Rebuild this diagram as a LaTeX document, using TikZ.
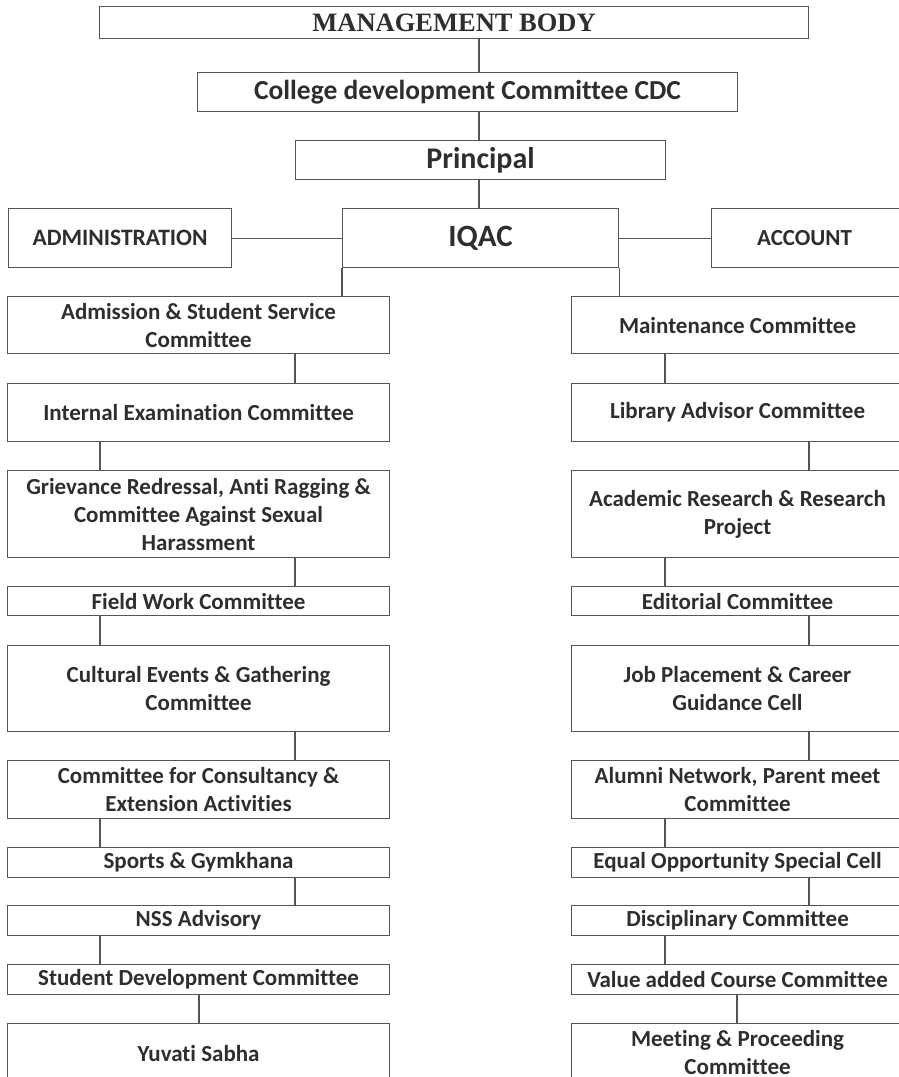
\documentclass[tikz,border=0pt]{standalone}
\usepackage{fontspec}
\setmainfont[Ligatures=NoCommon]{Carlito}
\newfontfamily\serifhead{Liberation Serif}
\definecolor{linec}{HTML}{555555}
\definecolor{textc}{HTML}{2E2E2E}
\tikzset{
  box/.style={draw=linec, line width=1.1pt, anchor=north west, inner sep=0pt, align=center, text=textc,
              font=\bfseries\fontsize{23}{28}\selectfont},
  conn/.style={draw=linec, line width=1.1pt},
}
\newcommand{\lbox}[4]{\node[box, minimum width=382pt, minimum height=#3pt] (#1) at (7,-#2) {#4};}
\newcommand{\rbox}[4]{\node[box, minimum width=332pt, minimum height=#3pt] (#1) at (571,-#2) {#4};}
\begin{document}
\begin{tikzpicture}[x=1pt,y=1pt]
\useasboundingbox (0,0) rectangle (899,-1077);
\clip (0,0) rectangle (899,-1077);
\fill[white] (0,0) rectangle (899,-1077);
% top
\node[box, minimum width=709pt, minimum height=32pt, font=\serifhead\bfseries\fontsize{26.5}{30}\selectfont] (mb) at (99,-6) {MANAGEMENT BODY};
\node[box, minimum width=540pt, minimum height=39pt, font=\bfseries\fontsize{27.5}{30}\selectfont] (cdc) at (197,-72) {College development Committee CDC};
\node[box, minimum width=370pt, minimum height=39pt, font=\bfseries\fontsize{30}{32}\selectfont] (pri) at (295,-140) {Principal};
\node[box, minimum width=223pt, minimum height=59pt, font=\bfseries\fontsize{23.5}{28}\selectfont] (adm0) at (8,-208) {ADMINISTRATION};
\node[box, minimum width=276pt, minimum height=59pt, font=\bfseries\fontsize{31}{32}\selectfont] (iqac) at (342,-208) {IQAC};
\node[box, minimum width=200pt, minimum height=59pt, font=\bfseries\fontsize{23}{28}\selectfont, text width=200pt] (acc) at (711,-208) {\hspace*{-14pt}ACCOUNT};
\coordinate (xm) at (479,0);
\coordinate (xa) at (100,0);
\coordinate (xb) at (295,0);
\coordinate (xc) at (199,0);
\coordinate (xd) at (665,0);
\coordinate (xe) at (809,0);
\coordinate (xf) at (737,0);
% left column
\lbox{ad}{296}{57}{Admission \& Student Service\\Committee}
\lbox{ie}{383}{58}{Internal Examination Committee}
\lbox{gr}{470}{87}{Grievance Redressal, Anti Ragging \&\\Committee Against Sexual\\Harassment}
\lbox{fw}{586}{29}{Field Work Committee}
\lbox{ce}{645}{86}{Cultural Events \& Gathering\\Committee}
\lbox{cc}{760}{58}{Committee for Consultancy \&\\Extension Activities}
\lbox{sg}{847}{30}{Sports \& Gymkhana}
\lbox{ns}{905}{30}{NSS Advisory}
\lbox{sd}{964}{30}{Student Development Committee}
\lbox{ys}{1023}{59}{Yuvati Sabha}
% right column
\rbox{mc}{296}{57}{Maintenance Committee}
\rbox{la}{383}{58}{Library Advisor Committee}
\rbox{ar}{470}{87}{Academic Research \& Research\\Project}
\rbox{ec}{586}{29}{Editorial Committee}
\rbox{jp}{645}{86}{Job Placement \& Career\\Guidance Cell}
\rbox{an}{760}{58}{Alumni Network, Parent meet\\Committee}
\rbox{eo}{847}{30}{Equal Opportunity Special Cell}
\rbox{dc}{905}{30}{Disciplinary Committee}
\rbox{vc}{964}{30}{Value added Course Committee}
\rbox{mp}{1023}{57}{Meeting \& Proceeding\\Committee}
% connectors top
\draw[conn] (mb.south -| xm) -- (cdc.north -| xm);
\draw[conn] (cdc.south -| xm) -- (pri.north -| xm);
\draw[conn] (pri.south -| xm) -- (iqac.north -| xm);
\draw[conn] (adm0.east) -- (iqac.west);
\draw[conn] (iqac.east) -- (acc.west);
\draw[conn] (iqac.south west) -- (ad.north -| iqac.south west);
\draw[conn] (iqac.south east) -- (mc.north -| iqac.south east);
% left connectors
\draw[conn] (ad.south -| xb) -- (ie.north -| xb);
\draw[conn] (ie.south -| xa) -- (gr.north -| xa);
\draw[conn] (gr.south -| xb) -- (fw.north -| xb);
\draw[conn] (fw.south -| xa) -- (ce.north -| xa);
\draw[conn] (ce.south -| xb) -- (cc.north -| xb);
\draw[conn] (cc.south -| xa) -- (sg.north -| xa);
\draw[conn] (sg.south -| xb) -- (ns.north -| xb);
\draw[conn] (ns.south -| xa) -- (sd.north -| xa);
\draw[conn] (sd.south -| xc) -- (ys.north -| xc);
% right connectors
\draw[conn] (mc.south -| xd) -- (la.north -| xd);
\draw[conn] (la.south -| xe) -- (ar.north -| xe);
\draw[conn] (ar.south -| xd) -- (ec.north -| xd);
\draw[conn] (ec.south -| xe) -- (jp.north -| xe);
\draw[conn] (jp.south -| xe) -- (an.north -| xe);
\draw[conn] (an.south -| xd) -- (eo.north -| xd);
\draw[conn] (eo.south -| xe) -- (dc.north -| xe);
\draw[conn] (dc.south -| xd) -- (vc.north -| xd);
\draw[conn] (vc.south -| xf) -- (mp.north -| xf);
\end{tikzpicture}
\end{document}
